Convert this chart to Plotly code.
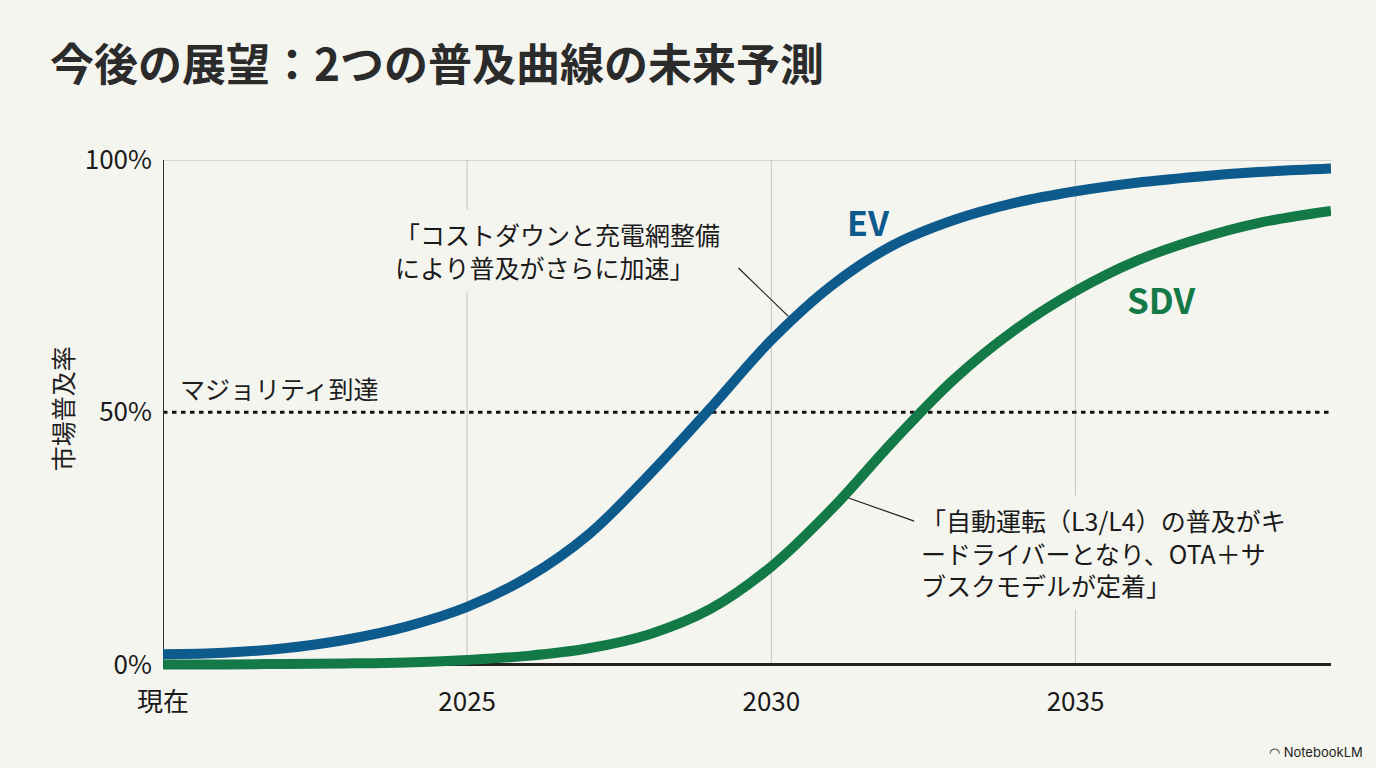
import plotly.graph_objects as go

# data
years = [2020, 2021, 2022, 2023, 2024, 2025, 2026, 2027, 2028, 2029,
         2030, 2031, 2032, 2033, 2034, 2035, 2036, 2037, 2038, 2039.2]
ev_share = [2.0, 2.3, 3.2, 4.9, 7.5, 11.4, 17.3, 25.8, 37.7, 50.8,
            64.3, 75.2, 83.1, 88.1, 91.5, 93.8, 95.5, 96.7, 97.6, 98.3]
sdv_share = [0.0, 0.0, 0.1, 0.2, 0.4, 0.9, 1.7, 3.2, 6.0, 11.0,
             19.4, 30.9, 44.2, 56.5, 66.3, 74.0, 80.0, 84.3, 87.5, 89.9]

x_tickvals = [2020, 2025, 2030, 2035]
x_ticktext = ['現在', '2025', '2030', '2035']
y_tickvals = [0, 50, 100]
y_ticktext = ['0%', '50%', '100%']
majority_level = 50

BG = '#f5f5f0'
BLUE = '#0d5a8c'
GREEN = '#137a47'
FONT = 'Noto Sans CJK JP'
X_END = 2039.2

fig = go.Figure()

fig.add_trace(go.Scatter(
    x=years, y=ev_share, mode='lines', name='EV',
    line=dict(color=BLUE, width=10, shape='spline'),
    hoverinfo='skip'
))
fig.add_trace(go.Scatter(
    x=years, y=sdv_share, mode='lines', name='SDV',
    line=dict(color=GREEN, width=10, shape='spline'),
    hoverinfo='skip'
))

# grid / axis lines as shapes so they stop at the axes
for xv in x_tickvals[1:]:
    fig.add_shape(type='line', x0=xv, x1=xv, y0=0, y1=100, layer='below',
                  line=dict(color='#cbcbcb', width=1.2))
fig.add_shape(type='line', x0=2020, x1=X_END, y0=100, y1=100, layer='below',
              line=dict(color='#c8c8c8', width=1.5))
fig.add_shape(type='line', x0=2020, x1=X_END, y0=majority_level, y1=majority_level,
              layer='below', line=dict(color='#111111', width=3, dash='4.5px,4.5px'))
fig.add_shape(type='line', x0=2020, x1=X_END, y0=0, y1=0, layer='below',
              line=dict(color='#222222', width=3))
fig.add_shape(type='line', x0=2020, x1=2020, y0=0, y1=100, layer='below',
              line=dict(color='#333333', width=2))

# leader lines for the callouts
fig.add_shape(type='line', x0=2029.46, y0=78.6, x1=2030.28, y1=69.0,
              line=dict(color='#222222', width=1.2))
fig.add_shape(type='line', x0=2031.27, y0=33.0, x1=2032.35, y1=28.4,
              line=dict(color='#222222', width=1.2))

fig.add_annotation(x=2020.25, y=54.8, text='マジョリティ到達', showarrow=False,
                   xanchor='left', yanchor='middle',
                   font=dict(family=FONT, size=25, color='#1e1e1e'))
fig.add_annotation(x=2031.6, y=87.9, text='<b>EV</b>', showarrow=False,
                   font=dict(family=FONT, size=34, color=BLUE))
fig.add_annotation(x=2036.41, y=72.6, text='<b>SDV</b>', showarrow=False,
                   font=dict(family=FONT, size=35, color=GREEN))
fig.add_annotation(x=2023.7, y=82.0,
                   text='「コストダウンと充電網整備<br>により普及がさらに加速」',
                   showarrow=False, xanchor='left', yanchor='middle', align='left',
                   bgcolor=BG, borderpad=6,
                   font=dict(family=FONT, size=25, color='#1a1a1a'))
fig.add_annotation(x=2032.35, y=22.1,
                   text='「自動運転（L3/L4）の普及がキ<br>ードライバーとなり、OTA＋サ<br>ブスクモデルが定着」',
                   showarrow=False, xanchor='left', yanchor='middle', align='left',
                   bgcolor=BG, borderpad=6,
                   font=dict(family=FONT, size=25, color='#1a1a1a'))

# y axis title
fig.add_annotation(xref='paper', x=0, xshift=-101, y=50, yshift=3,
                   xanchor='center', yanchor='middle',
                   text='市場普及率', textangle=-90, showarrow=False,
                   font=dict(family=FONT, size=25, color='#1e1e1e'))

# watermark
fig.add_annotation(xref='paper', yref='paper', x=1, y=0, xshift=34, yshift=-80,
                   xanchor='right', yanchor='middle', text='◠ NotebookLM',
                   showarrow=False, font=dict(family='Inter', size=13, color='#222222'))

fig.update_layout(
    width=1376, height=768,
    paper_bgcolor=BG, plot_bgcolor=BG,
    showlegend=False,
    margin=dict(l=163, r=45, t=160, b=96),
    title=dict(text='<b>今後の展望：2つの普及曲線の未来予測</b>',
               x=50 / 1376, xanchor='left', xref='container',
               y=1 - 66 / 768, yanchor='middle', yref='container',
               font=dict(family=FONT, size=44, color='#2b2b2b')),
    font=dict(family=FONT, color='#1e1e1e'),
)
fig.update_xaxes(range=[2020, X_END], showgrid=False, zeroline=False, showline=False,
                 tickvals=x_tickvals, ticktext=x_ticktext, ticks='',
                 ticklabelstandoff=12, tickfont=dict(family=FONT, size=26, color='#1a1a1a'))
fig.update_yaxes(range=[-1.5, 100], showgrid=False, zeroline=False, showline=False,
                 tickvals=y_tickvals, ticktext=y_ticktext, ticks='',
                 ticklabelstandoff=10, tickfont=dict(family=FONT, size=26, color='#1a1a1a'))

fig.write_html('out.html', config={'displayModeBar': False},
               post_script="document.body.style.margin='0';")
